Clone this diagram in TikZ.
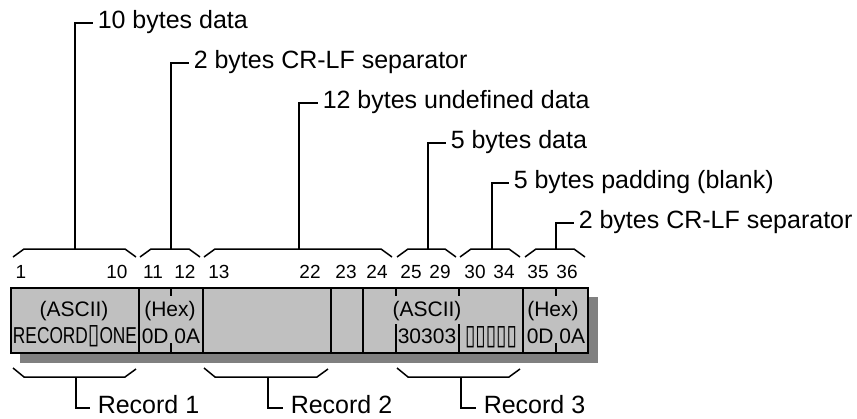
\documentclass[tikz,border=0pt]{standalone}
\usepackage{fontspec}
\setmainfont{Liberation Sans}
\newfontfamily\symfont{DejaVu Sans}
\usepackage{graphicx}
\definecolor{boxgray}{HTML}{C0C0C0}
\definecolor{shadowgray}{HTML}{808080}
\newcommand\tbrace[2]{\draw[brace] (#1,257) -- (#1+11,249) -- (#2-11,249) -- (#2,257);}
\newcommand\bbrace[2]{\draw[brace] (#1,368) -- (#1+11,377) -- (#2-11,377) -- (#2,369);}
\begin{document}
\begin{tikzpicture}[x=1pt,y=-1pt, line width=1.5pt,
 lbl/.style={anchor=base west, inner sep=0pt, font=\fontsize{25}{29}\selectfont},
 num/.style={anchor=base, inner sep=0pt, font=\fontsize{19}{22}\selectfont},
 intext/.style={anchor=base, inner sep=0pt, font=\fontsize{21}{24}\selectfont},
 brace/.style={line width=1.5pt, line join=miter}]
\useasboundingbox (0,0) rectangle (857,418);
% shadow and record box
\fill[shadowgray] (20,297) rectangle (598,363);
\draw[fill=boxgray] (11,288) rectangle (588,353);
% full dividers
\foreach \x in {139,203,331,363,523} \draw (\x,288) -- (\x,353);
% short ticks
\foreach \x in {171,556} {\draw (\x,288) -- (\x,296); \draw (\x,343) -- (\x,353);}
% partial dividers
\foreach \x in {396,459} {\draw (\x,288) -- (\x,296); \draw (\x,324) -- (\x,353);}
% box texts
\node[intext] (a1) at (74,316) {(ASCII)};
\node[intext, font=\fontsize{23}{25}\selectfont] (d1) at (75,343) {\resizebox{124pt}{\height}{RECORD{\symfont\fontsize{28}{30}\selectfont ▯}ONE}};
\node[intext] (h1) at (170,316) {(Hex)};
\node[intext] (x1) at (171,343) {0D 0A};
\node[intext] (a2) at (427,316) {(ASCII)};
\node[intext] (d2) at (427,343) {30303};
\node[intext, font=\symfont\fontsize{28}{30}\selectfont] (p2) at (491,344) {\resizebox{52pt}{\height}{▯▯▯▯▯}};
\node[intext] (h2) at (553,316) {(Hex)};
\node[intext] (x2) at (556,343) {0D 0A};
% position numbers
\foreach \x/\t in {21/1,117/10,153/11,185/12,219/13,310/22,346/23,377/24,411/25,440/29,475/30,504/34,538/35,567/36}
  \node[num] (n\t) at (\x,278) {\t};
% top braces
\tbrace{13}{136}
\tbrace{140}{200}
\tbrace{204}{392}
\tbrace{397}{456}
\tbrace{460}{520}
\tbrace{525}{585}
\coordinate (t1) at (75,249);
\coordinate (t2) at (171,249);
\coordinate (t3) at (299,249);
\coordinate (t4) at (428,249);
\coordinate (t5) at (492,249);
\coordinate (t6) at (556,249);
\node[lbl] (l1) at (97,28) {10 bytes data};
\node[lbl] (l2) at (193,68) {2 bytes CR-LF separator};
\node[lbl] (l3) at (322,108) {12 bytes undefined data};
\node[lbl] (l4) at (450,148) {5 bytes data};
\node[lbl] (l5) at (513,188) {5 bytes padding (blank)};
\node[lbl] (l6) at (578,228) {2 bytes CR-LF separator};
\foreach \i in {1,...,6}
  \draw (t\i) |- ([xshift=-4pt,yshift=5pt]l\i.base west);
% bottom braces
\bbrace{13}{136}
\bbrace{204}{328}
\bbrace{397}{520}
\coordinate (b1) at (76,377);
\coordinate (b2) at (268,377);
\coordinate (b3) at (461,377);
\node[lbl] (r1) at (97,413) {Record 1};
\node[lbl] (r2) at (290,413) {Record 2};
\node[lbl] (r3) at (483,413) {Record 3};
\foreach \i in {1,2,3}
  \draw (b\i) |- ([xshift=-7pt,yshift=5pt]r\i.base west);
\end{tikzpicture}
\end{document}
